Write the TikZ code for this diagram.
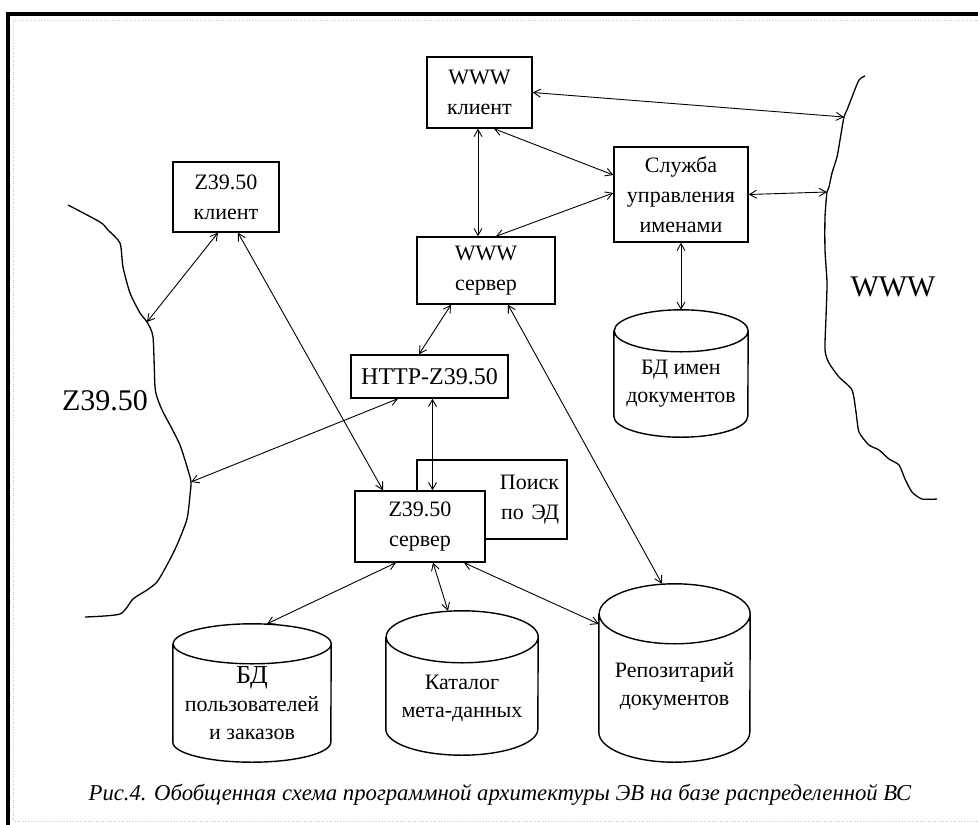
\documentclass[tikz,border=0pt]{standalone}
\usepackage{fontspec}
\setmainfont{Liberation Serif}
\usepackage{tikz}
\usetikzlibrary{arrows.meta}

\newcommand\diafont{\fontsize{22}{30}\selectfont}
\newcommand\httpfont{\fontsize{24}{28}\selectfont}
\newcommand\dbfont{\fontsize{22}{28}\selectfont}
\newcommand\netfont{\fontsize{30}{34}\selectfont}
\newcommand\capfont{\itshape\fontsize{22.7}{26}\selectfont}

\begin{document}
\begin{tikzpicture}[x=1pt,y=-1pt,>={Straight Barb[length=7pt,width=8pt]},
    box/.style={draw,line width=1.4pt,fill=white,inner sep=0pt,align=center,font=\diafont},
    dbase/.style={inner sep=0pt},
    dbtext/.style={align=center,inner sep=0pt,font=\dbfont},
    link/.style={<->,line width=0.9pt},
    net/.style={line width=1.3pt,line join=round}]

    % Frame
    \fill[white] (0,0) rectangle (978,825);
    \useasboundingbox (0,0) rectangle (978,825);
    \draw[gray!45,dotted,line width=0.6pt] (978,20) -- (13,20) -- (13,821) -- (978,821);
    \draw[line width=4pt] (978,14) -- (8,14) -- (8,825);

    % Boxes
    \node[box,minimum width=105,minimum height=71] (wwwcl) at (479.5,92.5) {WWW\\клиент};
    \node[box,minimum width=106,minimum height=70] (zcl) at (226,197) {Z39.50\\клиент};
    \node[box,minimum width=134,minimum height=95] (names) at (681,194.5) {Служба\\управления\\именами};
    \node[box,minimum width=138,minimum height=67] (wwwsrv) at (486,270.5) {WWW\\сервер};
    \node[box,font=\httpfont,minimum width=157,minimum height=43] (http) at (429.5,376.5) {HTTP-Z39.50};
    \node[box,text width=134pt,inner xsep=8pt,align=right,minimum height=79] (search) at (492,499.5) {Поиск\\по ЭД};
    \node[box,minimum width=130,minimum height=71] (zsrv) at (420,526.5) {Z39.50\\сервер};

    % Data bases
    \node[dbase,minimum width=134,minimum height=127] (dbnames) at (681,373.5) {};
    \node[dbase,minimum width=158,minimum height=138] (dbusers) at (252,693) {};
    \node[dbase,minimum width=152,minimum height=144] (dbcat) at (462,683) {};
    \node[dbase,minimum width=151,minimum height=178] (dbrepo) at (674.5,673) {};
    \foreach \db/\rx/\ry in {dbnames/67/21,dbusers/79/20,dbcat/76/26,dbrepo/75.5/30}
      \draw[line width=1.4pt] ([yshift=-\ry*1pt]\db.north west) -- ([yshift=\ry*1pt]\db.south west)
        arc[start angle=180,end angle=360,x radius=\rx*1pt,y radius=\ry*1pt]
        -- ([yshift=-\ry*1pt]\db.north east)
        arc[start angle=0,end angle=360,x radius=\rx*1pt,y radius=\ry*1pt];
    \node[dbtext] (dbnamestxt) at ([yshift=-10.5pt]dbnames.center) {БД имен\\документов};
    \node[dbtext] (dbuserstxt) at ([yshift=-10pt]dbusers.center) {{\fontsize{26}{29}\selectfont БД}\\пользователей\\и заказов};
    \node[dbtext] (dbcattxt) at ([yshift=-15pt]dbcat.center) {Каталог\\мета-данных};
    \node[dbtext] (dbrepotxt) at ([yshift=-13pt]dbrepo.center) {Репозитарий\\документов};

    % Networks
    \draw[net] plot[smooth,tension=0.4] coordinates {(68,205) (100,222) (108,230) (120,243) (123,267)
      (130,293) (140,313) (147,322) (153,337) (155,387) (158,400) (163,412) (170,425) (180,445)
      (188,470) (191,482) (190,495) (187,519) (177,545) (167,565) (157,582) (147,590) (133,599)
      (120,614) (85,617)};
    \draw[net] plot[smooth,tension=0.4] coordinates {(865,76) (859,80) (852,97) (847,110) (844,117)
      (840,140) (837,157) (832,173) (829,187) (827,192) (825,217) (825,250) (827,283) (826,317)
      (825,350) (829,363) (839,377) (852,390) (856,412) (859,432) (869,445) (879,450) (889,459)
      (899,465) (905,479) (912,492) (922,499) (937,499)};
    \coordinate (zhi) at (147,322);
    \coordinate (zlow) at (191,482);
    \coordinate (wwwtop) at (844,117);
    \coordinate (wwwmid) at (827,192);
    \node[font=\netfont] (znet) at (105,401) {Z39.50};
    \node[font=\netfont] (wwwnet) at (893,287) {WWW};

    % Arrows
    \draw[link] ([xshift=-1.5pt]wwwcl.south) -- ([xshift=-8pt]wwwsrv.north);
    \draw[link] ([xshift=14.5pt]wwwcl.south) -- ([yshift=19.5pt]names.west);
    \draw[link] ([xshift=10pt]wwwsrv.north) -- ([yshift=1.5pt]names.west);
    \draw[link] (wwwcl.east) -- (wwwtop);
    \draw[link] (names.east) -- (wwwmid);
    \draw[link] (names.south) -- (dbnames.north);
    \draw[link] ([xshift=-35pt]wwwsrv.south) -- ([xshift=-10.5pt]http.north);
    \draw[link] ([xshift=22pt]wwwsrv.south) -- ([xshift=-12.5pt]dbrepo.north);
    \draw[link] ([xshift=3pt]http.south) -- ([xshift=12.5pt]zsrv.north);
    \draw[link] ([xshift=-31.5pt]http.south) -- (zlow);
    \draw[link] ([xshift=12pt]zcl.south) -- ([xshift=-37pt]zsrv.north);
    \draw[link] ([xshift=-8pt]zcl.south) -- (zhi);
    \draw[link] ([xshift=-24pt]zsrv.south) -- ([xshift=15pt]dbusers.north);
    \draw[link] ([xshift=13pt]zsrv.south) -- ([xshift=-14pt]dbcat.north);
    \draw[link] ([xshift=44pt]zsrv.south) -- ([yshift=49pt]dbrepo.west);

    % Caption
    \node[font=\capfont] (caption) at (500,795) {Рис.4. Обобщенная схема программной архитектуры ЭВ на базе распределенной ВС};
\end{tikzpicture}
\end{document}
